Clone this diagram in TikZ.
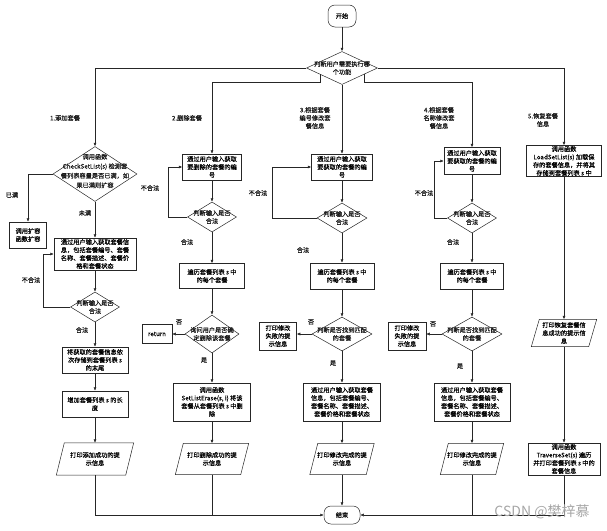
\documentclass[tikz,border=0pt]{standalone}
\usepackage{fontspec}
\newfontfamily\cjkf[FakeBold=0.35]{Noto Sans CJK SC}
\newfontfamily\wmf{Noto Sans CJK SC}
\newcommand\myfs{\cjkf\fontsize{6.2}{8}\selectfont}
\usetikzlibrary{shapes.geometric,arrows.meta,calc}
\tikzset{
 ln/.style={line width=0.5pt, draw=black!85},
 arr/.style={ln, -{Latex[length=3.5pt,width=3pt]}},
 box/.style={ln, draw, rectangle, inner sep=0.5pt, align=center, font=\myfs},
 term/.style={box, rounded corners=7pt},
 dia/.style={ln, draw, diamond, inner sep=0pt},
 txt/.style={inner sep=0pt, align=center, font=\myfs, text=black!90},
 pbox/.style={inner sep=0.5pt, align=center, font=\myfs},
}
\newcommand\parabox[1]{\draw[ln] ([xshift=8pt]#1.north west) -- (#1.north east) -- ([xshift=-8pt]#1.south east) -- (#1.south west) -- cycle;}
\begin{document}
\begin{tikzpicture}[x=1pt,y=-1pt]
\useasboundingbox (0,0) rectangle (607,530);
% start and main decision
\node[term, minimum width=28pt, minimum height=22pt] (start) at (342,16) {开始};
\node[dia, minimum width=71pt, minimum height=33pt] (md) at (342,68) {};
\node[txt] at (md) {判断用户需要执行哪\\个功能};
\draw[arr] (start) -- (md.north);
\coordinate (p2) at ($(md.west)!0.38!(md.south)$);
\coordinate (p4) at ($(md.east)!0.38!(md.south)$);
% branch labels
\node[txt] at (65,118) {1.添加套餐};
\node[txt] at (187,118) {2.删除套餐};
\node[txt] at (315,118) {3.根据套餐\\编号修改套\\餐信息};
\node[txt] at (439,118) {4.根据套餐\\名称修改套\\餐信息};
\node[txt] at (543,120) {5.恢复套餐\\信息};
% ---------- column 1
\node[dia, minimum width=84pt, minimum height=55pt] (d1) at (95,174) {};
\node[txt, font=\cjkf\fontsize{6.2}{9.5}\selectfont] at (95,171) {调用函数\\CheckSetList(s) 检测套\\餐列表容量是否已满，如\\果已满则扩容};
\node[box, minimum width=37pt, minimum height=26pt] (e0) at (28,235) {调用扩容\\函数扩容};
\node[box, minimum width=82pt, minimum height=32pt] (a1) at (95,254) {通过用户输入获取套餐信\\息，包括套餐编号、套餐\\名称、套餐描述、套餐价\\格和套餐状态};
\node[dia, minimum width=49pt, minimum height=30pt] (a2) at (95,307) {};
\node[txt] at (a2) {判断输入是否\\合法};
\node[box, minimum width=66pt, minimum height=26pt] (a3) at (95,360) {将获取的套餐信息依\\次存储到套餐列表 s\\的末尾};
\node[box, minimum width=66pt, minimum height=26pt] (a4) at (95,404) {增加套餐列表 s 的长\\度};
\node[pbox, minimum width=77pt, minimum height=32pt] (a5) at (95,459) {打印添加成功的提\\示信息};
\parabox{a5}
\draw[arr] (md.west) -| (d1.north);
\draw[arr] (d1.west) -| (e0.north);
\draw[arr] (d1.south) -- (a1.north);
\draw[arr] (a1.south) -- (a2.north);
\draw[arr] (a2.west) -| ([xshift=-11pt]a1.west) -- (a1.west);
\draw[arr] (a2.south) -- (a3.north);
\draw[arr] (a3.south) -- (a4.north);
\draw[arr] (a4.south) -- (a5.north);
\node[txt] at (12,195) {已满};
\node[txt] at (85,213) {未满};
\node[txt] at (31,280) {不合法};
\node[txt] at (82,330) {合法};
% ---------- column 2
\coordinate (j2) at (212,82);
\node[box, minimum width=59pt, minimum height=26pt] (b1) at (212,167) {通过用户输入获取\\要删除的套餐的编\\号};
\node[dia, minimum width=49pt, minimum height=30pt] (b2) at (212,217) {};
\node[txt] at (b2) {判断输入是否\\合法};
\node[box, minimum width=65pt, minimum height=25pt] (b3) at (212,276) {遍历套餐列表 s 中\\的每个套餐};
\node[dia, minimum width=54pt, minimum height=38pt] (b4) at (212,334) {};
\node[txt] at (b4) {询问用户是否确\\定删除该套餐};
\node[box, minimum width=30pt, minimum height=19pt] (ret) at (157,334) {return};
\node[box, minimum width=77pt, minimum height=38pt] (b5) at (212,402) {调用函数\\SetListErase(s, i) 将该\\套餐从套餐列表 s 中删\\除};
\node[pbox, minimum width=73pt, minimum height=31pt] (b6) at (212,459) {打印删除成功的提\\示信息};
\parabox{b6}
\draw[arr] (p2) |- (j2) -- (b1.north);
\draw[arr] (b1.south) -- (b2.north);
\draw[arr] (b2.west) -| ([xshift=-14pt]b1.west) -- (b1.west);
\draw[arr] (b2.south) -- (b3.north);
\draw[arr] (b3.south) -- (b4.north);
\draw[arr] (b4.west) -- (ret.east);
\draw[arr] (b4.south) -- (b5.north);
\draw[arr] (b5.south) -- (b6.north);
\node[txt] at (150,188) {不合法};
\node[txt] at (187,242) {合法};
\node[txt] at (179,322) {否};
\node[txt] at (204,360) {是};
% ---------- column 3
\node[box, minimum width=61pt, minimum height=26pt] (c1) at (342,167) {通过用户输入获取\\要获取的套餐的编\\号};
\node[dia, minimum width=50pt, minimum height=30pt] (c2) at (342,218) {};
\node[txt] at (c2) {判断输入是否\\合法};
\node[box, minimum width=64pt, minimum height=26pt] (c3) at (342,276) {遍历套餐列表 s 中\\的每个套餐};
\node[dia, minimum width=60pt, minimum height=34pt] (c4) at (342,334) {};
\node[txt] at (c4) {判断是否找到匹配\\的套餐};
\node[box, minimum width=37pt, minimum height=28pt] (c5) at (278,336) {打印修改\\失败的提\\示信息};
\node[box, minimum width=77pt, minimum height=38pt] (c6) at (342,402) {通过用户输入获取套餐\\信息，包括套餐编号、\\套餐名称、套餐描述、\\套餐价格和套餐状态};
\node[pbox, minimum width=64pt, minimum height=31pt] (c7) at (342,459) {打印修改完成的提\\示信息};
\parabox{c7}
\node[term, minimum width=36pt, minimum height=18pt] (end) at (342,515) {结束};
\draw[arr] (md.south) -- (c1.north);
\draw[arr] (c1.south) -- (c2.north);
\draw[arr] (c2.west) -| ([xshift=-39pt]c1.west) -- (c1.west);
\draw[arr] (c2.south) -- (c3.north);
\draw[arr] (c3.south) -- (c4.north);
\draw[arr] (c4.west) -- (c4.west -| c5.east);
\draw[arr] (c4.south) -- (c6.north);
\draw[arr] (c6.south) -- (c7.north);
\draw[arr] (c7.south) -- (end.north);
\node[txt] at (258,193) {不合法};
\node[txt] at (303,250) {合法};
\node[txt] at (311,322) {否};
\node[txt] at (333,363) {是};
% ---------- column 4
\coordinate (j4) at (472,82);
\node[box, minimum width=56pt, minimum height=27pt] (f1) at (472,161) {通过用户输入获取\\要获取的套餐的编\\号};
\node[dia, minimum width=49pt, minimum height=30pt] (f2) at (472,218) {};
\node[txt] at (f2) {判断输入是否\\合法};
\node[box, minimum width=63pt, minimum height=26pt] (f3) at (472,276) {遍历套餐列表 s 中\\的每个套餐};
\node[dia, minimum width=60pt, minimum height=34pt] (f4) at (472,334) {};
\node[txt] at (f4) {判断是否找到匹配\\的套餐};
\node[box, minimum width=38pt, minimum height=28pt] (f5) at (407,336) {打印修改\\失败的提\\示信息};
\node[box, minimum width=76pt, minimum height=38pt] (f6) at (472,402) {通过用户输入获取套餐\\信息，包括套餐编号、\\套餐名称、套餐描述、\\套餐价格和套餐状态};
\node[pbox, minimum width=63pt, minimum height=31pt] (f7) at (472,459) {打印修改完成的提\\示信息};
\parabox{f7}
\draw[arr] (p4) |- (j4) -- (f1.north);
\draw[arr] (f1.south) -- (f2.north);
\draw[arr] (f2.west) -| ([xshift=-10pt]f1.west) -- (f1.west);
\draw[arr] (f2.south) -- (f3.north);
\draw[arr] (f3.south) -- (f4.north);
\draw[arr] (f4.west) -- (f4.west -| f5.east);
\draw[arr] (f4.south) -- (f6.north);
\draw[arr] (f6.south) -- (f7.north);
\node[txt] at (424,193) {不合法};
\node[txt] at (453,242) {合法};
\node[txt] at (433,324) {否};
\node[txt] at (460,366) {是};
% ---------- column 5
\node[box, minimum width=75pt, minimum height=31pt] (g1) at (564,161) {调用函数\\LoadSetList(s) 加载保\\存的套餐信息，并将其\\存储到套餐列表 s 中};
\node[pbox, minimum width=65pt, minimum height=27pt] (g2) at (564,333) {打印恢复套餐信\\息成功的提示信\\息};
\parabox{g2}
\node[box, minimum width=72pt, minimum height=32pt] (g3) at (564,459) {调用函数\\TraverseSet(s) 遍历\\并打印套餐列表 s 中的\\套餐信息};
\draw[arr] (md.east) -| (g1.north);
\draw[arr] (g1.south) -- (g2.north);
\draw[arr] (g2.south) -- (g3.north);
% ---------- to end
\draw[arr] (a5.south) |- (end.west);
\draw[ln] (b6.south) -- (b6.south |- end.west);
\draw[arr] (g3.south) |- (end.east);
\draw[ln] (f7.south) -- (f7.south |- end.east);
% watermark
\node[inner sep=0pt, font=\wmf\fontsize{14}{15}\selectfont, text=black!35] at (542,512) {CSDN @樊梓慕};
\end{tikzpicture}
\end{document}
